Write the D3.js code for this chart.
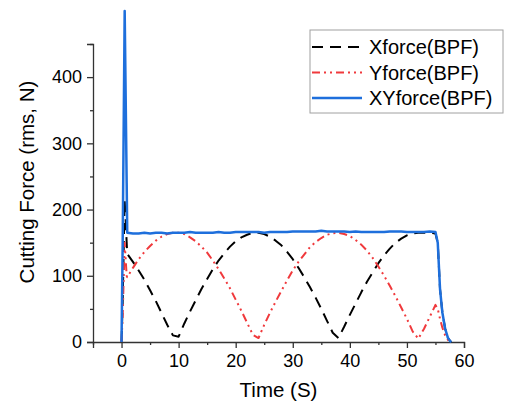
<!DOCTYPE html>
<html>
<head>
<meta charset="utf-8">
<script src="https://cdn.jsdelivr.net/npm/d3@7"></script>
<style>
  body { margin: 0; background: #fff; }
  text { font-family: "Liberation Sans", Arial, sans-serif; }
</style>
</head>
<body>
<div id="chart"></div>
<script>
(function(){
	var w = 511, h = 403;
	var margin = {left: 93, right: 47, top: 44, bottom: 61};

	// time samples (s), shared by all three series
	var time = [0, 0.2, 0.55, 0.9, 1,
		2, 3, 4, 5, 6, 7, 8, 9, 10, 11, 12, 13, 14, 15, 16, 17, 18, 19, 20,
		21, 22, 23, 24, 25, 26, 27, 28, 29, 30, 31, 32, 33, 34, 35, 36, 37, 38,
		39, 40, 41, 42, 43, 44, 45, 46, 47, 48, 49, 50, 51, 52, 53, 54, 55,
		55.4, 55.8, 56.2, 56.7, 57.2, 57.6, 57.8];
	var xForce = [0, 60, 215, 150, 133,
		121, 108, 94, 78, 62, 44, 26, 10, 8, 28, 46, 63, 80, 95, 110, 123, 134, 144, 152,
		158, 162, 165, 165, 163, 159, 153, 146, 136, 125, 112, 98, 83, 67, 50, 32, 14, 6,
		23, 41, 58, 75, 91, 105, 119, 131, 141, 150, 156, 161, 164, 165, 165, 165, 164,
		150, 80, 45, 20, 6, 1, 0];
	var yForce = [0, 40, 150, 100, 98,
		112, 125, 136, 145, 153, 159, 163, 165, 165, 163, 158, 152, 144, 135, 123, 110, 96, 81, 64,
		47, 29, 11, 6, 26, 44, 61, 77, 93, 108, 121, 132, 143, 151, 157, 162, 164, 165,
		163, 160, 154, 147, 138, 127, 114, 100, 85, 69, 52, 35, 16, 5, 20, 38, 56,
		50, 35, 22, 10, 3, 0, 0];
	var xyForce = [0, 150, 500, 240, 165,
		164, 164, 165, 164, 165, 165, 164, 165, 165, 165, 166, 165, 165, 165, 165, 166, 165, 165, 166,
		166, 166, 166, 166, 165, 166, 166, 166, 166, 167, 167, 167, 167, 167, 168, 167, 167, 167,
		167, 166, 167, 166, 166, 166, 166, 166, 167, 167, 167, 166, 166, 166, 166, 167, 166,
		150, 80, 45, 20, 6, 1, 0];

	var seriesNames = ["Xforce(BPF)", "Yforce(BPF)", "XYforce(BPF)"];
	var xTicks = [0, 10, 20, 30, 40, 50, 60];
	var yTicks = [0, 100, 200, 300, 400];

	var series = [
		{name: seriesNames[0], values: xForce, color: "#000000", dash: "11,7", width: 2},
		{name: seriesNames[1], values: yForce, color: "#f0393c", dash: "8,4,2,4,2,4", width: 2},
		{name: seriesNames[2], values: xyForce, color: "#1e6fdc", dash: null, width: 2.5}
	];

	var svg = d3.select("#chart")
		.append("svg")
		.attr("width", w)
		.attr("height", h);

	var x = d3.scaleLinear().domain([-5, 60]).range([margin.left, w - margin.right]);
	var y = d3.scaleLinear().domain([0, 450]).range([h - margin.bottom, margin.top]);

	// axes: major ticks + minor ticks
	svg.append("g")
		.attr("transform", "translate(0," + y(0) + ")")
		.call(d3.axisBottom(x).tickValues(xTicks).tickSize(6).tickPadding(6).tickFormat(d3.format("d")));
	svg.append("g")
		.attr("transform", "translate(0," + y(0) + ")")
		.call(d3.axisBottom(x).tickValues(d3.range(-5, 61, 10)).tickSize(3).tickFormat(""))
		.select(".domain").remove();

	svg.append("g")
		.attr("transform", "translate(" + x(-5) + ",0)")
		.call(d3.axisLeft(y).tickValues(yTicks).tickSize(6).tickPadding(5).tickFormat(d3.format("d")));
	svg.append("g")
		.attr("transform", "translate(" + x(-5) + ",0)")
		.call(d3.axisLeft(y).tickValues([50, 150, 250, 350, 450]).tickSize(3).tickFormat(""))
		.select(".domain").remove();

	svg.selectAll(".domain").attr("stroke", "#333").attr("stroke-width", 1.3);
	svg.selectAll(".tick line").attr("stroke", "#333").attr("stroke-width", 1.3);
	svg.selectAll(".tick text").attr("font-size", 18).attr("fill", "#000")
		.attr("font-family", "Liberation Sans, Arial, sans-serif");

	// axis titles
	svg.append("text")
		.attr("x", x(27.5))
		.attr("y", 397)
		.attr("text-anchor", "middle")
		.attr("font-size", 20.5)
		.text("Time (S)");
	svg.append("text")
		.attr("transform", "translate(34,182) rotate(-90)")
		.attr("text-anchor", "middle")
		.attr("font-size", 20.5)
		.text("Cutting Force (rms, N)");

	// lines
	var line = d3.line()
		.x(function(d, i){ return x(time[i]); })
		.y(function(d){ return y(d); });

	svg.selectAll("path.series")
		.data(series)
		.enter()
		.append("path")
		.attr("class", "series")
		.attr("fill", "none")
		.attr("stroke", function(d){ return d.color; })
		.attr("stroke-width", function(d){ return d.width; })
		.attr("stroke-dasharray", function(d){ return d.dash; })
		.attr("stroke-linejoin", "round")
		.attr("d", function(d){ return line(d.values); });

	// legend
	var lg = svg.append("g");
	lg.append("rect")
		.attr("x", 310).attr("y", 30)
		.attr("width", 193).attr("height", 83)
		.attr("fill", "#fff")
		.attr("stroke", "#a0a0a0")
		.attr("stroke-width", 1);
	var rows = lg.selectAll("g.row")
		.data(series)
		.enter()
		.append("g")
		.attr("class", "row")
		.attr("transform", function(d, i){ return "translate(0," + (47 + i * 25.5) + ")"; });
	rows.append("line")
		.attr("x1", 312).attr("x2", 362)
		.attr("stroke", function(d){ return d.color; })
		.attr("stroke-width", function(d){ return d.width; })
		.attr("stroke-dasharray", function(d){ return d.dash; });
	rows.append("text")
		.attr("x", 369)
		.attr("y", 7)
		.attr("font-size", 20)
		.text(function(d){ return d.name; });
})();
</script>
</body>
</html>
